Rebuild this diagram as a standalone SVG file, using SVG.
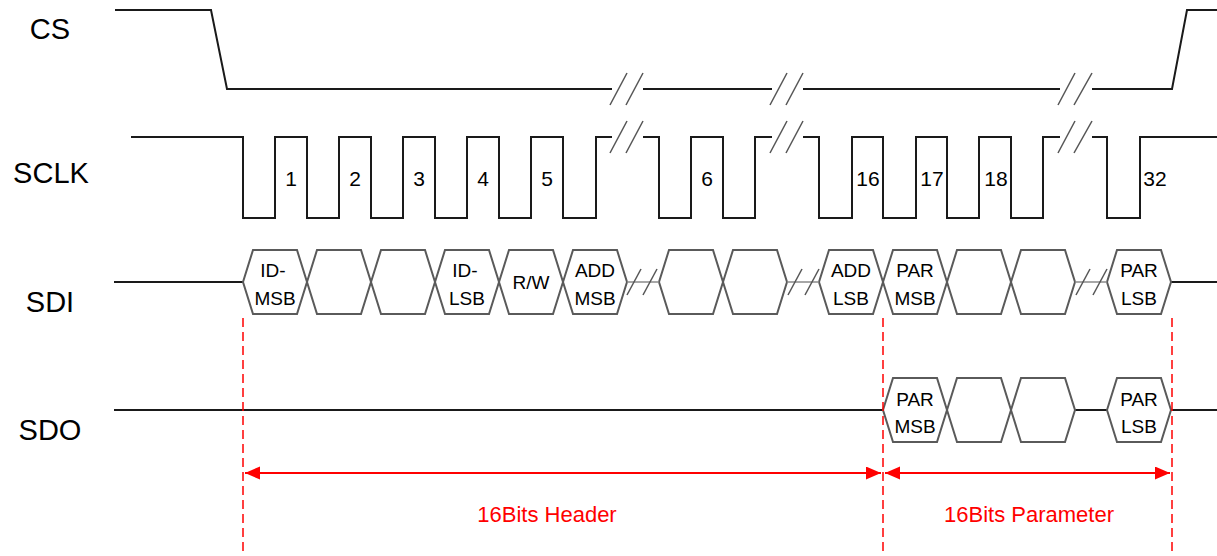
<svg xmlns="http://www.w3.org/2000/svg" width="1217" height="556" viewBox="0 0 1217 556">
<style>
.sig{fill:none;stroke:#1a1a1a;stroke-width:2;stroke-linejoin:miter}
.hex{fill:none;stroke:#5a5a5a;stroke-width:2;stroke-linejoin:miter}
.brk{stroke:#555;stroke-width:1.5;fill:none}
.gap{stroke:#8a8a8a;stroke-width:1.5;fill:none}
.lbl{font-family:"Liberation Sans",Arial,sans-serif;font-size:29px;fill:#000;text-anchor:middle}
.num{font-family:"Liberation Sans",Arial,sans-serif;font-size:21px;fill:#000;text-anchor:middle}
.hx{font-family:"Liberation Sans",Arial,sans-serif;font-size:19px;fill:#000;text-anchor:middle}
.dash{stroke:#ff0000;stroke-width:1.5;stroke-dasharray:9 5;fill:none}
.arr{stroke:#ff0000;stroke-width:2;fill:none;marker-start:url(#ah);marker-end:url(#ah)}
.rt{font-family:"Liberation Sans",Arial,sans-serif;font-size:22px;fill:#ff0000;text-anchor:middle}
</style>
<defs>
<marker id="ah" markerUnits="userSpaceOnUse" markerWidth="16" markerHeight="14" refX="15" refY="6.5" orient="auto-start-reverse">
<path d="M0,0 L15,6.5 L0,13 Z" fill="#ff0000"/>
</marker>
</defs>
<rect width="1217" height="556" fill="#fff"/>

<g id="labels">
<text class="lbl" x="50" y="39">CS</text>
<text class="lbl" x="51" y="183">SCLK</text>
<text class="lbl" x="50" y="312">SDI</text>
<text class="lbl" x="50" y="440">SDO</text>
</g>

<g id="cs">
<polyline class="sig" points="115,10 211,10 227,89 612,89"/>
<line class="sig" x1="643" y1="89" x2="772" y2="89"/>
<line class="sig" x1="803" y1="89" x2="1060" y2="89"/>
<polyline class="sig" points="1092,89 1172,89 1187,10 1217,10"/>
<line class="brk" x1="610" y1="105" x2="627" y2="73"/>
<line class="brk" x1="626" y1="105" x2="643" y2="73"/>
<line class="brk" x1="770" y1="105" x2="787" y2="73"/>
<line class="brk" x1="786" y1="105" x2="803" y2="73"/>
<line class="brk" x1="1058" y1="105" x2="1075" y2="73"/>
<line class="brk" x1="1074" y1="105" x2="1092" y2="73"/>
</g>

<g id="sclk">
<polyline class="sig" points="131,137 243,137 243,218 275,218 275,137 307,137 307,218 339,218 339,137 371,137 371,218 403,218 403,137 435,137 435,218 467,218 467,137 499,137 499,218 531,218 531,137 563,137 563,218 596,218 596,137 612,137"/>
<polyline class="sig" points="643,137 659,137 659,218 691,218 691,137 723,137 723,218 755,218 755,137 772,137"/>
<polyline class="sig" points="803,137 819,137 819,218 852,218 852,137 883,137 883,218 916,218 916,137 947,137 947,218 979,218 979,137 1011,137 1011,218 1043,218 1043,137 1060,137"/>
<polyline class="sig" points="1092,137 1107,137 1107,218 1140,218 1140,137 1217,137"/>
<line class="brk" x1="610" y1="153" x2="627" y2="121"/>
<line class="brk" x1="626" y1="153" x2="643" y2="121"/>
<line class="brk" x1="770" y1="153" x2="787" y2="121"/>
<line class="brk" x1="786" y1="153" x2="803" y2="121"/>
<line class="brk" x1="1058" y1="153" x2="1075" y2="121"/>
<line class="brk" x1="1074" y1="153" x2="1092" y2="121"/>
<text class="num" x="291" y="186">1</text>
<text class="num" x="355" y="186">2</text>
<text class="num" x="419" y="186">3</text>
<text class="num" x="483" y="186">4</text>
<text class="num" x="547" y="186">5</text>
<text class="num" x="707" y="186">6</text>
<text class="num" x="868" y="186">16</text>
<text class="num" x="932" y="186">17</text>
<text class="num" x="996" y="186">18</text>
<text class="num" x="1155" y="186">32</text>
</g>

<g id="sdi">
<line class="sig" x1="114" y1="282" x2="243" y2="282"/>
<line class="sig" x1="1171" y1="282" x2="1217" y2="282"/>
<g id="sdi-id-msb"><path class="hex" d="M243,282 L253,250 L297,250 L307,282 L297,314 L253,314 Z"/><text class="hx" x="273" y="277">ID-</text><text class="hx" x="275" y="305">MSB</text></g>
<g id="sdi-b2"><path class="hex" d="M307,282 L317,250 L361,250 L371,282 L361,314 L317,314 Z"/></g>
<g id="sdi-b3"><path class="hex" d="M371,282 L381,250 L425,250 L435,282 L425,314 L381,314 Z"/></g>
<g id="sdi-id-lsb"><path class="hex" d="M435,282 L445,250 L489,250 L499,282 L489,314 L445,314 Z"/><text class="hx" x="465" y="277">ID-</text><text class="hx" x="467" y="305">LSB</text></g>
<g id="sdi-rw"><path class="hex" d="M499,282 L509,250 L553,250 L563,282 L553,314 L509,314 Z"/><text class="hx" x="531" y="289">R/W</text></g>
<g id="sdi-add-msb"><path class="hex" d="M563,282 L573,250 L617,250 L627,282 L617,314 L573,314 Z"/><text class="hx" x="595" y="277">ADD</text><text class="hx" x="595" y="305">MSB</text></g>
<g id="sdi-b7"><path class="hex" d="M659,282 L669,250 L713,250 L723,282 L713,314 L669,314 Z"/></g>
<g id="sdi-b8"><path class="hex" d="M723,282 L733,250 L777,250 L787,282 L777,314 L733,314 Z"/></g>
<g id="sdi-add-lsb"><path class="hex" d="M819,282 L829,250 L873,250 L883,282 L873,314 L829,314 Z"/><text class="hx" x="851" y="277">ADD</text><text class="hx" x="851" y="305">LSB</text></g>
<g id="sdi-par-msb"><path class="hex" d="M883,282 L893,250 L937,250 L947,282 L937,314 L893,314 Z"/><text class="hx" x="915" y="277">PAR</text><text class="hx" x="915" y="305">MSB</text></g>
<g id="sdi-b18"><path class="hex" d="M947,282 L957,250 L1001,250 L1011,282 L1001,314 L957,314 Z"/></g>
<g id="sdi-b19"><path class="hex" d="M1011,282 L1021,250 L1065,250 L1075,282 L1065,314 L1021,314 Z"/></g>
<g id="sdi-par-lsb"><path class="hex" d="M1107,282 L1117,250 L1161,250 L1171,282 L1161,314 L1117,314 Z"/><text class="hx" x="1139" y="277">PAR</text><text class="hx" x="1139" y="305">LSB</text></g>
<line class="gap" x1="627" y1="282" x2="659" y2="282"/>
<line class="brk" x1="627" y1="295" x2="641" y2="269"/>
<line class="brk" x1="643" y1="295" x2="657" y2="269"/>
<line class="gap" x1="787" y1="282" x2="819" y2="282"/>
<line class="brk" x1="788" y1="295" x2="802" y2="269"/>
<line class="brk" x1="805" y1="295" x2="819" y2="269"/>
<line class="gap" x1="1075" y1="282" x2="1107" y2="282"/>
<line class="brk" x1="1076" y1="295" x2="1090" y2="269"/>
<line class="brk" x1="1093" y1="295" x2="1107" y2="269"/>
</g>

<g id="sdo">
<line class="sig" x1="114" y1="410" x2="883" y2="410"/>
<line class="sig" x1="1075" y1="410" x2="1107" y2="410"/>
<line class="sig" x1="1171" y1="410" x2="1217" y2="410"/>
<g id="sdo-par-msb"><path class="hex" d="M883,410 L893,378 L937,378 L947,410 L937,442 L893,442 Z"/><text class="hx" x="915" y="406">PAR</text><text class="hx" x="915" y="433">MSB</text></g>
<g id="sdo-b2"><path class="hex" d="M947,410 L957,378 L1001,378 L1011,410 L1001,442 L957,442 Z"/></g>
<g id="sdo-b3"><path class="hex" d="M1011,410 L1021,378 L1065,378 L1075,410 L1065,442 L1021,442 Z"/></g>
<g id="sdo-par-lsb"><path class="hex" d="M1107,410 L1117,378 L1161,378 L1171,410 L1161,442 L1117,442 Z"/><text class="hx" x="1139" y="406">PAR</text><text class="hx" x="1139" y="433">LSB</text></g>
</g>

<g id="connectors">
<line class="dash" x1="243" y1="318" x2="243" y2="556"/>
<line class="dash" x1="883" y1="318" x2="883" y2="556"/>
<line class="dash" x1="1172" y1="318" x2="1172" y2="556"/>
<line class="arr" x1="245" y1="473" x2="881" y2="473"/>
<line class="arr" x1="885" y1="473" x2="1170" y2="473"/>
</g>

<g id="annotations">
<text class="rt" x="547" y="522">16Bits Header</text>
<text class="rt" x="1029" y="522">16Bits Parameter</text>
</g>
</svg>
